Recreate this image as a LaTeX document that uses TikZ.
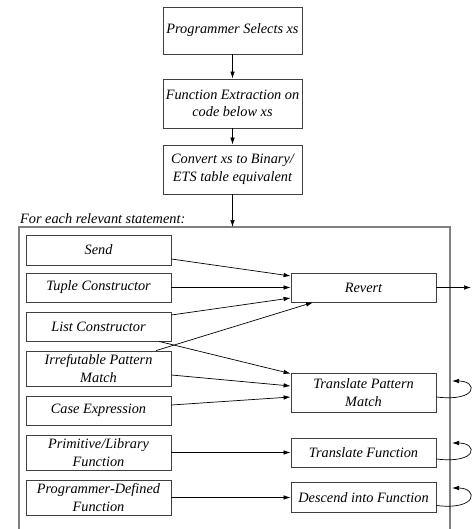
\documentclass[tikz,border=0pt]{standalone}
\usepackage{fontspec}
\setmainfont{Liberation Serif}
\usetikzlibrary{arrows.meta,positioning}

\begin{document}
\begin{tikzpicture}[x=1pt,y=-1pt,on grid,
    box/.style={draw=black!75,line width=0.8pt,align=center,inner sep=1pt,
      font=\itshape\fontsize{14.3}{17.5}\selectfont},
    stmt/.style={box,minimum width=145pt},
    frame/.style={draw=black!50,line width=1.5pt},
    >={Latex[length=7pt,width=4.5pt]},
    every edge/.style={draw,line width=0.7pt}]
  \useasboundingbox (0,0) rectangle (471,529);
  % Top of the flow
  \node[box,minimum width=139pt,minimum height=47pt] (select) at (232.5,30.5) {Programmer Selects xs};
  \node[box,minimum width=139pt,minimum height=49pt] (extract) [below=73pt of select] {Function Extraction on\\code below xs};
  \node[box,minimum width=139pt,minimum height=49pt] (convert) [below=66pt of extract] {Convert xs to Binary/\\ETS table equivalent};
  % Frame round the statements
  \coordinate (ftop) at (232.5,227);
  \draw[frame] (19,531) |- (450,227) -- (450,531);
  \node[anchor=base west,font=\itshape\fontsize{14.3}{17.5}\selectfont,inner sep=0pt] (each) at (20,223.5) {For each relevant statement:};
  % Statements
  \node[stmt,minimum height=30pt] (send) at (98.5,250) {Send};
  \node[stmt,minimum height=29pt] (tuple) [below=37.5pt of send] {Tuple Constructor};
  \node[stmt,minimum height=29pt] (list) [below=39pt of tuple] {List Constructor};
  \node[stmt,minimum height=35pt] (irref) [below=42pt of list] {Irrefutable Pattern\\Match};
  \node[stmt,minimum height=29pt] (case) [below=42pt of irref] {Case Expression};
  \node[stmt,minimum height=35pt] (prim) [below=42pt of case] {Primitive/Library\\Function};
  \node[stmt,minimum height=35pt] (progdef) [below=45pt of prim] {Programmer-Defined\\Function};
  % Actions
  \node[stmt,minimum height=29pt] (revert) [right=265pt of tuple] {Revert};
  \node[stmt,minimum height=39pt] (transpm) at (363.5,392.5) {Translate Pattern\\Match};
  \node[stmt,minimum height=29pt] (transfn) [right=265pt of prim] {Translate Function};
  \node[stmt,minimum height=30pt] (descend) [right=265pt of progdef] {Descend into Function};
  \coordinate (out) at (471,287.5);
  \coordinate (pmback) at (452,381);
  \coordinate (fnback) at (452,443);
  \coordinate (dsback) at (452,488);
  % Transitions
  \path[->]
    (select) edge (extract)
    (extract) edge (convert)
    (convert) edge (ftop)
    ([yshift=-9pt]send.east) edge ([yshift=11.5pt]revert.west)
    (tuple) edge (revert)
    ([yshift=11.5pt]list.east) edge ([yshift=-10.5pt]revert.west)
    ([xshift=57.5pt]irref.north) edge ([xshift=-50.5pt]revert.south)
    ([xshift=60.5pt]list.south) edge ([yshift=-1pt]transpm.north west)
    ([yshift=-6.5pt]irref.east) edge ([yshift=6.5pt]transpm.west)
    ([yshift=5.5pt]case.east) edge ([yshift=-4.5pt]transpm.west)
    (prim) edge (transfn)
    (progdef) edge (descend)
    (revert) edge (out);
  % Loops back into the frame
  \draw[->,line width=0.7pt] ([yshift=-4.5pt]transpm.east) .. controls +(42,5) and +(26,0) .. (pmback);
  \draw[->,line width=0.7pt] ([yshift=-6.5pt]transfn.east) .. controls +(42,5) and +(26,0) .. (fnback);
  \draw[->,line width=0.7pt] ([yshift=-8pt]descend.east) .. controls +(42,5) and +(26,0) .. (dsback);
\end{tikzpicture}
\end{document}
